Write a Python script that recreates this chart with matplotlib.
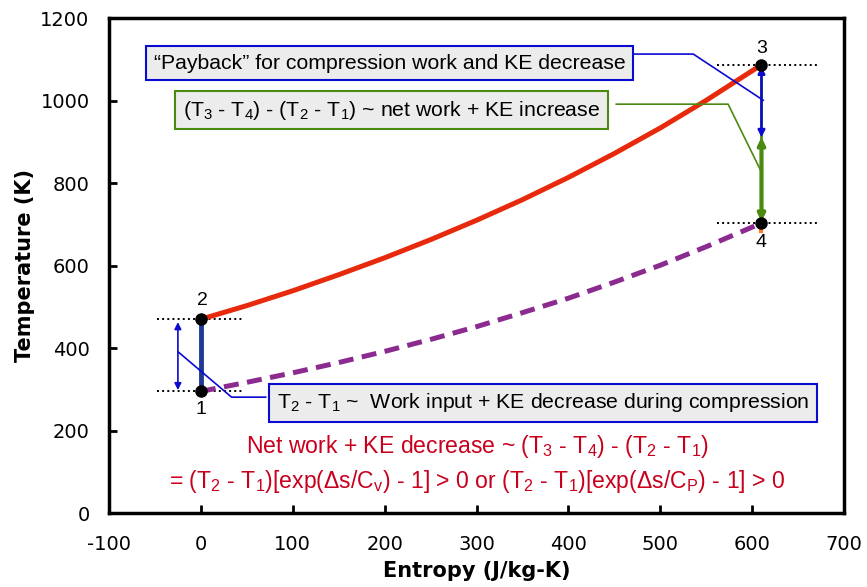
import matplotlib
matplotlib.use("Agg")
import matplotlib.pyplot as plt

plt.rcParams['mathtext.fontset'] = 'custom'
plt.rcParams['mathtext.rm'] = 'Liberation Sans'
plt.rcParams['axes.unicode_minus'] = False

# state points 1..4 (entropy J/kg-K, temperature K)
state_labels = ["1", "2", "3", "4"]
state_s = [0, 0, 610, 610]
state_T = [295, 470, 1087, 703]

# 2 -> 3 heat addition (solid red)
s_heat = [0, 50, 100, 150, 200, 250, 300, 350, 400, 450, 500, 550, 610]
T_heat = [470, 503, 539, 578, 619, 663, 710, 760, 814, 872, 934, 1001, 1087]

# 1 -> 4 heat rejection (dashed purple)
s_rej = [0, 50, 100, 150, 200, 250, 300, 350, 400, 450, 500, 550, 610]
T_rej = [295, 317, 340, 365, 392, 421, 452, 486, 521, 560, 601, 646, 703]

x_ticks = [-100, 0, 100, 200, 300, 400, 500, 600, 700]
y_ticks = [0, 200, 400, 600, 800, 1000, 1200]

T_mid_right = 911   # where blue and green arrows meet at s=610
T_orange_end = 683

sub = lambda n: r'$\mathregular{_{%s}}$' % n
txt_payback = "\u201cPayback\u201d for compression work and KE decrease"
txt_green = "(T" + sub(3) + " - T" + sub(4) + ") - (T" + sub(2) + " - T" + sub(1) + ") ~ net work + KE increase"
txt_blue = "T" + sub(2) + " - T" + sub(1) + " ~  Work input + KE decrease during compression"
txt_red1 = "Net work + KE decrease ~ (T" + sub(3) + " - T" + sub(4) + ") - (T" + sub(2) + " - T" + sub(1) + ")"
txt_red2 = ("= (T" + sub(2) + " - T" + sub(1) + r")[exp($\mathregular{\Delta}$s/C" + sub("v") +
            ") - 1] > 0 or (T" + sub(2) + " - T" + sub(1) + r")[exp($\mathregular{\Delta}$s/C" + sub("P") + ") - 1] > 0")

fig = plt.figure(figsize=(8.67, 5.87), dpi=100)
ax = fig.add_axes([0.1257, 0.126, 0.848, 0.843])

BLUE = '#0a0ad0'
GREEN = '#4a8a10'
NAVY = '#1f3a93'

# cycle curves
ax.plot(s_heat, T_heat, color='#e82a0c', lw=3.6, zorder=3, solid_capstyle='butt')
ax.plot(s_rej, T_rej, color='#8b2a8f', lw=3.6, dashes=(3.0, 1.7), zorder=3)
ax.plot([state_s[0], state_s[1]], [state_T[0], state_T[1]], color=NAVY, lw=3.5, zorder=3)
ax.plot([state_s[3], state_s[3]], [state_T[3], T_orange_end], color='#ff7f27', lw=3, zorder=2)

# dotted reference lines
for s, T in zip(state_s, state_T):
    ax.plot([s - 48, s + 63 if s > 0 else s + 47], [T, T], color='black', lw=1.4, ls=':', zorder=2)

# right side arrows
ax.plot([state_s[2], state_s[2]], [state_T[3], state_T[2]], color=GREEN, lw=2, zorder=3)
ax.annotate("", xy=(state_s[2], state_T[2] - 4), xytext=(state_s[2], T_mid_right),
            arrowprops=dict(arrowstyle='<|-|>', color=BLUE, lw=1.8, mutation_scale=10, shrinkA=0, shrinkB=0), zorder=4)
ax.annotate("", xy=(state_s[2], T_mid_right), xytext=(state_s[2], state_T[3] + 4),
            arrowprops=dict(arrowstyle='<|-|>', color=GREEN, lw=3, mutation_scale=10, shrinkA=0, shrinkB=0), zorder=4)

# left double arrow
ax.annotate("", xy=(-25, 463), xytext=(-25, 298),
            arrowprops=dict(arrowstyle='<|-|>', color=BLUE, lw=1.2, mutation_scale=10, shrinkA=0, shrinkB=0), zorder=4)

# state markers and labels
ax.plot(state_s, state_T, 'o', color='black', ms=8, zorder=5)
label_T = [250, 516, 1127, 657]
label_s = [0, 2, 610, 610]
for lab, s, T in zip(state_labels, label_s, label_T):
    ax.text(s, T, lab, fontsize=14, family='Liberation Sans', ha='center', va='center')

# callout leader lines
ax.plot([470, 535.8, 611.9], [1113, 1113, 1001], color=BLUE, lw=1.2, zorder=4)
ax.plot([452, 573.7, 610], [991.5, 991.5, 826.7], color=GREEN, lw=1.2, zorder=4)
ax.plot([-24.3, 33.4, 70.5], [390, 281, 281], color=BLUE, lw=1.2, zorder=4)

# boxes
box_kw = dict(fontsize=15.3, family='Liberation Sans', ha='center', va='center', zorder=6)
ax.text(205.6, 1091, txt_payback, bbox=dict(boxstyle='square,pad=0.36', fc='#ececec', ec=BLUE, lw=1.5), **box_kw)
ax.text(207.7, 977, txt_green, bbox=dict(boxstyle='square,pad=0.36', fc='#ececec', ec=GREEN, lw=1.5), **box_kw)
ax.text(372, 267, txt_blue, bbox=dict(boxstyle='square,pad=0.36', fc='#ececec', ec=BLUE, lw=1.5), **box_kw)

# red equations
ax.text(301, 162, txt_red1, color='#c8001e', fontsize=16.6, family='Liberation Sans', ha='center', va='center')
ax.text(301, 77, txt_red2, color='#c8001e', fontsize=16.6, family='Liberation Sans', ha='center', va='center')

ax.set_xlim(-100, 700)
ax.set_ylim(0, 1200)
ax.set_xticks(x_ticks)
ax.set_yticks(y_ticks)
ax.tick_params(direction='in', length=6, width=2, labelsize=14)
ax.tick_params(axis='x', pad=16)
ax.tick_params(axis='y', pad=14)
for sp in ax.spines.values():
    sp.set_linewidth(2.5)
ax.set_xlabel("Entropy (J/kg-K)", fontsize=15, fontweight='bold', labelpad=5)
ax.set_ylabel("Temperature (K)", fontsize=15, fontweight='bold', labelpad=4)

fig.savefig("out.png", dpi=100)
